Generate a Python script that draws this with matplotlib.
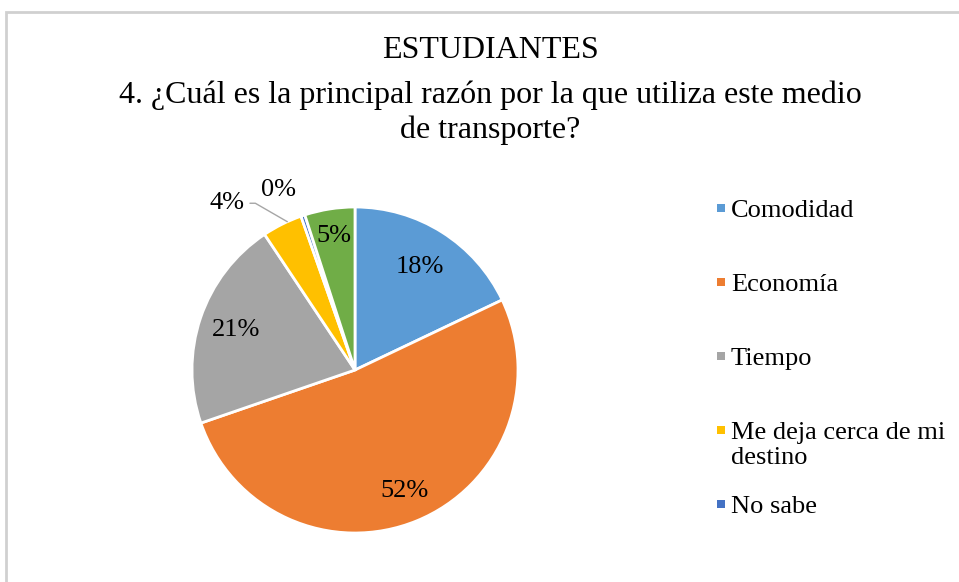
import matplotlib.pyplot as plt
import numpy as np
from matplotlib.patches import Rectangle

plt.rcParams['font.family'] = ['Liberation Serif', 'DejaVu Serif']

categorias = ['Comodidad', 'Economía', 'Tiempo', 'Me deja cerca de mi\ndestino', 'No sabe', 'Otro']
valores = [18, 52, 21, 4, 0.4, 5]
colores = ['#5B9BD5', '#ED7D31', '#A5A5A5', '#FFC000', '#4472C4', '#70AD47']
etiquetas = [f"{round(v)}%" for v in valores]
# distancia de cada etiqueta (en radios) y giro extra en grados
dist_etiqueta = [0.75, 0.8, 0.77, 1.29, 1.2, 0.83]
giro_etiqueta = [0, 0, 0, 11, 4.5, 0]

W, H = 959, 582
fig = plt.figure(figsize=(W / 100, H / 100), dpi=100)
fig.patches.append(Rectangle((6 / W, -0.1), 1.1, 1.1 - 12 / H, transform=fig.transFigure,
                             fill=False, edgecolor='#d0d0d0', linewidth=2))

titulo = ['ESTUDIANTES', '4. ¿Cuál es la principal razón por la que utiliza este medio', 'de transporte?']
for linea, yp in zip(titulo, [50, 95, 130]):
    fig.text(490 / W, 1 - yp / H, linea, ha='center', va='center', fontsize=23)

ax = fig.add_axes([(355 - 163) / W, (H - 533) / H, 326 / W, 326 / H])
wedges, _ = ax.pie(valores, colors=colores, startangle=90, counterclock=False,
                   wedgeprops=dict(edgecolor='white', linewidth=2))
ax.set_xlim(-1, 1)
ax.set_ylim(-1, 1)
ax.set_aspect('equal')
ax.axis('off')

for i, w in enumerate(wedges):
    mid = (w.theta1 + w.theta2) / 2
    ang = np.deg2rad(mid + giro_etiqueta[i])
    r = dist_etiqueta[i]
    x, y = r * np.cos(ang), r * np.sin(ang)
    if i == 3:
        m = np.deg2rad(mid - 2)
        ax.annotate(etiquetas[i], xy=(np.cos(m), np.sin(m)), xytext=(x, y),
                    ha='center', va='center', fontsize=19,
                    arrowprops=dict(arrowstyle='-', color='#a6a6a6', lw=1, shrinkA=2, shrinkB=0,
                                    connectionstyle='angle,angleA=0,angleB=150,rad=0'),
                    annotation_clip=False)
    else:
        ax.text(x, y, etiquetas[i], ha='center', va='center', fontsize=19, clip_on=False)

# leyenda (solo las cinco primeras categorías son visibles)
for k in range(5):
    yp = 208 + 74 * k
    fig.patches.append(Rectangle((717 / W, 1 - (yp + 4) / H), 8 / W, 8 / H,
                                 transform=fig.transFigure, facecolor=colores[k], edgecolor='none'))
    fig.text(731 / W, 1 - (yp - 8) / H, categorias[k], ha='left', va='top', fontsize=19,
             linespacing=1.2)

fig.savefig('out.png', dpi=100, facecolor='white')
